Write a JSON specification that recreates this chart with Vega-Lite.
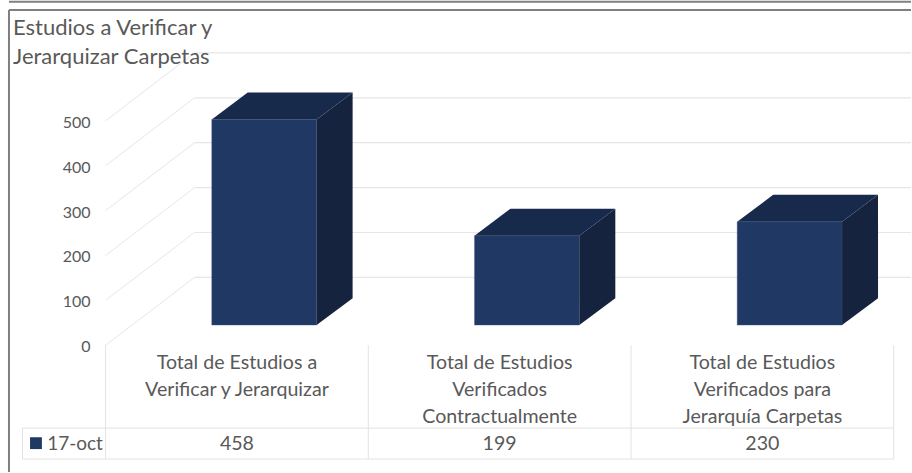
{"$schema":"https://vega.github.io/schema/vega-lite/v6.json","width":912,"height":473,"autosize":{"type":"fit","contains":"padding"},"padding":0,"background":"white","view":{"stroke":null},"config":{"font":"Lato"},"data":{"values":[{"fila":"17-oct"}]},"datasets":{"bars":[{"categoria":"Total de Estudios a Verificar y Jerarquizar","etiqueta":"Total de Estudios a\nVerificar y Jerarquizar","orden":0,"valor":458},{"categoria":"Total de Estudios Verificados Contractualmente","etiqueta":"Total de Estudios\nVerificados\nContractualmente","orden":1,"valor":199},{"categoria":"Total de Estudios Verificados para Jerarquía Carpetas","etiqueta":"Total de Estudios\nVerificados para\nJerarquía Carpetas","orden":2,"valor":230}],"ticks":[{"tick":0},{"tick":100},{"tick":200},{"tick":300},{"tick":400},{"tick":500}]},"title":{"text":["Estudios a Verificar y","Jerarquizar Carpetas"],"anchor":"start","frame":"group","align":"left","baseline":"top","dx":13,"offset":-69,"font":"Lato","fontSize":22,"fontWeight":"normal","color":"#595959","lineHeight":29},"layer":[{"data":{"name":"ticks"},"transform":[{"calculate":"datum.tick+151.1","as":"tickBack"},{"calculate":"0","as":"xFront"},{"calculate":"0.3384","as":"xBack"}],"mark":{"type":"rule","color":"#e6e6e6","strokeWidth":1},"encoding":{"x":{"field":"xFront","type":"quantitative","scale":{"domain":[-0.4019,3.0658],"nice":false,"zero":false},"axis":null},"x2":{"field":"xBack"},"y":{"field":"tick","type":"quantitative","scale":{"domain":[-282.2,768.9],"nice":false,"zero":false},"axis":{"title":null,"values":[0,100,200,300,400,500],"domain":false,"ticks":false,"grid":false,"offset":-90,"labelPadding":0,"labelOffset":1.5,"labelFontSize":16,"labelFont":"Lato","labelColor":"#595959"}},"y2":{"field":"tickBack"}}},{"data":{"name":"ticks"},"transform":[{"calculate":"datum.tick+151.1","as":"tickBack"},{"calculate":"0.3384","as":"xBack"},{"calculate":"3.0658","as":"xEnd"}],"mark":{"type":"rule","color":"#e6e6e6","strokeWidth":1.2},"encoding":{"x":{"field":"xBack","type":"quantitative","axis":null},"x2":{"field":"xEnd"},"y":{"field":"tickBack","type":"quantitative"}}},{"data":{"name":"bars"},"transform":[{"calculate":"datum.orden+0.4042","as":"x0"},{"calculate":"datum.orden+0.8034","as":"x1"},{"calculate":"45","as":"base"},{"calculate":"45+datum.valor","as":"top"}],"mark":{"type":"rect","color":"#1f3864","stroke":"#4a5f85","strokeWidth":0.4},"encoding":{"x":{"field":"x0","type":"quantitative","axis":null},"x2":{"field":"x1"},"y":{"field":"base","type":"quantitative"},"y2":{"field":"top"}}},{"data":{"name":"bars"},"transform":[{"calculate":"[0,1]","as":"k"},{"flatten":["k"]},{"calculate":"datum.orden+0.8034+datum.k*0.1369","as":"px"},{"calculate":"45+datum.k*60","as":"lo"},{"calculate":"45+datum.valor+datum.k*60","as":"hi"}],"mark":{"type":"area","color":"#15233f","orient":"vertical"},"encoding":{"x":{"field":"px","type":"quantitative","axis":null},"y":{"field":"lo","type":"quantitative","stack":null},"y2":{"field":"hi"},"detail":{"field":"categoria"}}},{"data":{"name":"bars"},"transform":[{"calculate":"[0,1,2,3]","as":"k"},{"flatten":["k"]},{"calculate":"datum.orden+0.4042+[0,0.1369,0.3992,0.5361][datum.k]","as":"px"},{"calculate":"45+datum.valor+[0,0,0,60][datum.k]","as":"lo"},{"calculate":"45+datum.valor+[0,60,60,60][datum.k]","as":"hi"}],"mark":{"type":"area","color":"#182a4c","orient":"vertical"},"encoding":{"x":{"field":"px","type":"quantitative","axis":null},"y":{"field":"lo","type":"quantitative","stack":null},"y2":{"field":"hi"},"detail":{"field":"categoria"}}},{"data":{"name":"bars"},"transform":[{"calculate":"datum.orden+1","as":"xr"},{"calculate":"0","as":"yTop"},{"calculate":"-253.3","as":"yBot"}],"mark":{"type":"rule","color":"#e2e2e2","strokeWidth":1},"encoding":{"x":{"field":"xr","type":"quantitative","axis":null},"y":{"field":"yTop","type":"quantitative"},"y2":{"field":"yBot"}}},{"mark":{"type":"rule","color":"#e2e2e2","strokeWidth":1},"encoding":{"x":{"datum":0,"type":"quantitative","axis":null},"y":{"datum":0,"type":"quantitative"},"y2":{"datum":-253.3}}},{"mark":{"type":"rule","color":"#e2e2e2","strokeWidth":1},"encoding":{"x":{"datum":-0.3163,"type":"quantitative","axis":null},"y":{"datum":-184.4,"type":"quantitative"},"y2":{"datum":-253.3}}},{"mark":{"type":"rule","color":"#e2e2e2","strokeWidth":1},"encoding":{"x":{"datum":-0.3163,"type":"quantitative","axis":null},"x2":{"datum":3},"y":{"datum":-184.4,"type":"quantitative"}}},{"mark":{"type":"rule","color":"#e2e2e2","strokeWidth":1},"encoding":{"x":{"datum":-0.3163,"type":"quantitative","axis":null},"x2":{"datum":3},"y":{"datum":-253.3,"type":"quantitative"}}},{"mark":{"type":"rule","color":"#7f7f7f","strokeWidth":2},"encoding":{"x":{"datum":-0.3677,"type":"quantitative","axis":null},"x2":{"datum":3.0658},"y":{"datum":746.7,"type":"quantitative"}}},{"mark":{"type":"rule","color":"#7f7f7f","strokeWidth":2},"encoding":{"x":{"datum":-0.3677,"type":"quantitative","axis":null},"x2":{"datum":3.0658},"y":{"datum":765,"type":"quantitative"}}},{"mark":{"type":"rule","color":"#7f7f7f","strokeWidth":2},"encoding":{"x":{"datum":-0.3677,"type":"quantitative","axis":null},"y":{"datum":746.7,"type":"quantitative"},"y2":{"datum":-282.2}}},{"data":{"name":"bars"},"transform":[{"calculate":"datum.orden+0.5","as":"xc"},{"calculate":"-19.5","as":"yLabel"}],"mark":{"type":"text","align":"center","baseline":"top","lineBreak":"\n","lineHeight":27,"font":"Lato","fontSize":19.6,"color":"#595959"},"encoding":{"x":{"field":"xc","type":"quantitative","axis":null},"y":{"field":"yLabel","type":"quantitative"},"text":{"field":"etiqueta"}}},{"data":{"name":"bars"},"transform":[{"calculate":"datum.orden+0.5","as":"xc"},{"calculate":"-220","as":"yRow"}],"mark":{"type":"text","align":"center","baseline":"middle","font":"Lato","fontSize":19.6,"color":"#595959"},"encoding":{"x":{"field":"xc","type":"quantitative","axis":null},"y":{"field":"yRow","type":"quantitative"},"text":{"field":"valor","type":"quantitative"}}},{"mark":{"type":"point","shape":"square","filled":true,"size":140,"color":"#1f3864","opacity":1},"encoding":{"x":{"datum":-0.265,"type":"quantitative","axis":null},"y":{"datum":-218,"type":"quantitative"}}},{"mark":{"type":"text","align":"left","baseline":"middle","font":"Lato","fontSize":19,"color":"#595959"},"encoding":{"x":{"datum":-0.2225,"type":"quantitative","axis":null},"y":{"datum":-220,"type":"quantitative"},"text":{"value":"17-oct"}}}]}
